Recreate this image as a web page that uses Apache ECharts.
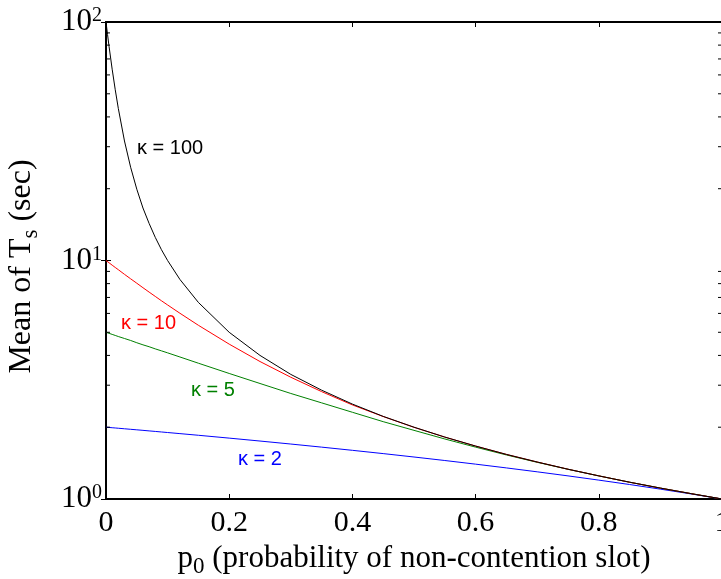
<!DOCTYPE html>
<html>
<head>
<meta charset="utf-8">
<script src="https://cdn.jsdelivr.net/npm/echarts@6/dist/echarts.min.js"></script>
<style>
html,body{margin:0;padding:0;background:#fff;}
#chart{width:721px;height:579px;}
</style>
</head>
<body>
<div id="chart"></div>
<script>
// p0 sample positions read along the x axis
var p0 = [0, 0.0025, 0.005, 0.01, 0.015, 0.02, 0.03, 0.04, 0.05, 0.06, 0.07, 0.08, 0.09, 0.1, 0.12, 0.15, 0.2, 0.25, 0.3, 0.35, 0.4, 0.45, 0.5, 0.55, 0.6, 0.65, 0.7, 0.75, 0.8, 0.85, 0.9, 0.95, 1];
// Mean of Ts (sec)
var k100 = [100, 88.6, 78.8, 63.4, 52.0, 43.4, 31.7, 24.6, 19.9, 16.6, 14.3, 12.5, 11.1, 10.0, 8.33, 6.67, 5.0, 4.0, 3.33, 2.86, 2.5, 2.22, 2.0, 1.818, 1.667, 1.538, 1.429, 1.333, 1.25, 1.176, 1.111, 1.053, 1.0];
var k10 = [10, 9.89, 9.78, 9.56, 9.35, 9.15, 8.75, 8.38, 8.03, 7.69, 7.37, 7.07, 6.78, 6.51, 6.01, 5.35, 4.46, 3.77, 3.24, 2.82, 2.48, 2.217, 1.998, 1.818, 1.667, 1.538, 1.429, 1.333, 1.25, 1.176, 1.111, 1.053, 1.0];
var k5 = [5, 4.975, 4.95, 4.90, 4.85, 4.80, 4.71, 4.62, 4.52, 4.43, 4.35, 4.26, 4.18, 4.10, 3.94, 3.71, 3.36, 3.05, 2.77, 2.53, 2.31, 2.11, 1.94, 1.785, 1.65, 1.53, 1.425, 1.332, 1.25, 1.176, 1.111, 1.053, 1.0];
var k2 = [2, 1.9975, 1.995, 1.99, 1.985, 1.98, 1.97, 1.96, 1.95, 1.94, 1.93, 1.92, 1.91, 1.9, 1.88, 1.85, 1.8, 1.75, 1.7, 1.65, 1.6, 1.55, 1.5, 1.45, 1.4, 1.35, 1.3, 1.25, 1.2, 1.15, 1.1, 1.05, 1.0];
var seriesNames = ['κ = 2', 'κ = 5', 'κ = 10', 'κ = 100'];
var seriesColors = ['#0000ff', '#008000', '#ff0000', '#000000'];
var xTicks = [0, 0.2, 0.4, 0.6, 0.8, 1];
var minorTicks = [2, 3, 4, 5, 6, 7, 8, 9, 20, 30, 40, 50, 60, 70, 80, 90];

function pairs(ys) { return p0.map(function (x, i) { return [x, ys[i]]; }); }

var chart = echarts.init(document.getElementById('chart'), null, {renderer: 'canvas'});
var serif = '"Liberation Serif", "Times New Roman", serif';
var sans = '"Liberation Sans", Arial, sans-serif';
var axisLineStyle = {color: '#000', width: 2};

var lineSeries = [k2, k5, k10, k100].map(function (ys, i) {
  return {
    name: seriesNames[i], type: 'line', data: pairs(ys), showSymbol: false,
    lineStyle: {color: seriesColors[i], width: 1}, itemStyle: {color: seriesColors[i]},
    xAxisIndex: 0, yAxisIndex: 0, animation: false, z: 3 + i
  };
});

var option = {
  animation: false,
  backgroundColor: '#fff',
  grid: {left: 106, top: 22, width: 616, height: 477, containLabel: false, outerBoundsMode: 'none'},
  xAxis: [{
    type: 'value', min: 0, max: 1, interval: 0.2, position: 'bottom',
    axisLine: {show: true, lineStyle: axisLineStyle},
    axisTick: {show: true, inside: true, length: 5, lineStyle: {color: '#000', width: 1}},
    splitLine: {show: false},
    axisLabel: {show: true, margin: 9, color: '#000', fontFamily: serif, fontSize: 30,
      showMaxLabel: true, showMinLabel: true, hideOverlap: false,
      formatter: function (v) { return String(Math.round(v * 10) / 10); }},
    name: '{n|p}{sub|0}{n| (probability of non-contention slot)}',
    nameLocation: 'middle', nameGap: 33,
    nameTextStyle: {rich: {
      n: {fontFamily: serif, fontSize: 31, color: '#000'},
      sub: {fontFamily: serif, fontSize: 23, color: '#000', verticalAlign: 'bottom', padding: [18, 0, 0, 0]}
    }}
  }, {
    type: 'value', min: 0, max: 1, interval: 0.2, position: 'top',
    axisLine: {show: true, lineStyle: axisLineStyle},
    axisTick: {show: true, inside: true, length: 5, lineStyle: {color: '#000', width: 1}},
    axisLabel: {show: false}, splitLine: {show: false}
  }],
  yAxis: [{
    type: 'log', logBase: 10, min: 1, max: 100, position: 'left',
    axisLine: {show: true, lineStyle: axisLineStyle},
    axisTick: {show: true, inside: true, length: 5, lineStyle: {color: '#000', width: 1}},
    splitLine: {show: false}, minorTick: {show: false},
    axisLabel: {show: true, margin: 4, color: '#000',
      formatter: function (v) { return '{b|10}{s|' + Math.round(Math.log10(v)) + '}'; },
      rich: {
        b: {fontFamily: serif, fontSize: 31, color: '#000'},
        s: {fontFamily: serif, fontSize: 20, color: '#000', verticalAlign: 'top', padding: [0, 0, 12, 0]}
      }},
    name: '{n|Mean of T}{sub|s}{n| (sec)}',
    nameLocation: 'middle', nameGap: 64, nameRotate: 90,
    nameTextStyle: {padding: [0, 12, 0, 0], rich: {
      n: {fontFamily: serif, fontSize: 32, color: '#000'},
      sub: {fontFamily: serif, fontSize: 23, color: '#000', verticalAlign: 'bottom', padding: [18, 0, 0, 0]}
    }}
  }, {
    type: 'log', logBase: 10, min: 1, max: 100, position: 'right',
    axisLine: {show: true, lineStyle: axisLineStyle},
    axisTick: {show: true, inside: true, length: 5, lineStyle: {color: '#000', width: 1}},
    axisLabel: {show: false}, splitLine: {show: false}
  }],
  series: lineSeries.concat([{
    type: 'custom', name: 'minorTicks', xAxisIndex: 0, yAxisIndex: 0, silent: true,
    data: minorTicks.map(function (v) { return [0, v]; }),
    encode: {x: 0, y: 1},
    clip: false, z: 10,
    renderItem: function (params, api) {
      var v = api.value(1);
      var pl = api.coord([0, v]);
      var pr = api.coord([1, v]);
      return {type: 'group', children: [
        {type: 'line', shape: {x1: pl[0], y1: pl[1], x2: pl[0] + 4, y2: pl[1]}, style: {stroke: '#000', lineWidth: 1}},
        {type: 'line', shape: {x1: pr[0] - 4, y1: pr[1], x2: pr[0], y2: pr[1]}, style: {stroke: '#000', lineWidth: 1}}
      ]};
    }
  }]),
  graphic: [
    {type: 'text', x: 137, y: 148, style: {text: 'κ = 100', fill: '#000', font: '20px ' + sans, verticalAlign: 'middle', align: 'left'}},
    {type: 'text', x: 121, y: 323, style: {text: 'κ = 10', fill: '#ff0000', font: '20px ' + sans, verticalAlign: 'middle', align: 'left'}},
    {type: 'text', x: 191, y: 390, style: {text: 'κ = 5', fill: '#008000', font: '20px ' + sans, verticalAlign: 'middle', align: 'left'}},
    {type: 'text', x: 238, y: 459, style: {text: 'κ = 2', fill: '#0000ff', font: '20px ' + sans, verticalAlign: 'middle', align: 'left'}}
  ]
};
chart.setOption(option);
</script>
</body>
</html>
